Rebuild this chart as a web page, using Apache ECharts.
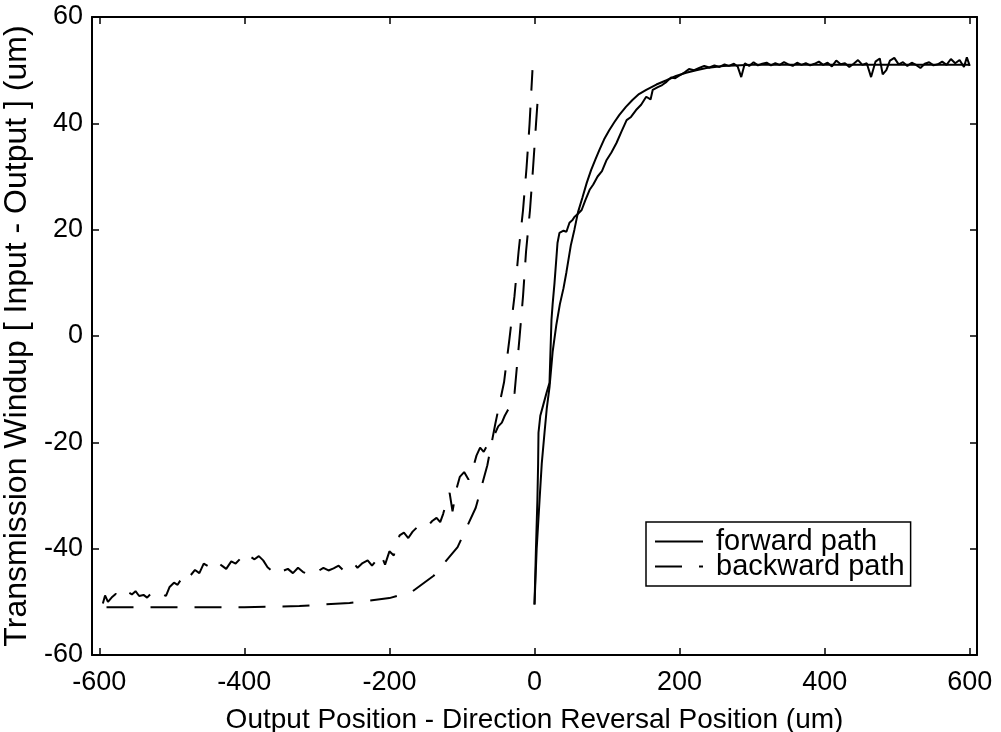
<!DOCTYPE html>
<html>
<head>
<meta charset="utf-8">
<script src="https://cdn.jsdelivr.net/npm/echarts@6/dist/echarts.min.js"></script>
<style>
html,body{margin:0;padding:0;background:#fff;}
#chart{width:1001px;height:732px;}
</style>
</head>
<body>
<div id="chart"></div>
<script>
// ---- Data ----
const xTicks = [-600, -400, -200, 0, 200, 400, 600];
const yTicks = [-60, -40, -20, 0, 20, 40, 60];

// forward path, measured (noisy, solid)
const fwdMeasX = [0,2,4,5,5.5,8,12,17,20.7,22,23.4,25,27.6,30.3,31.7,34.4,40,44,48.2,52.4,55,60,65,70,76,81,87,93,99,106,113,120,127,133,140,147,154,160,163,170,176,182,188,194,200,207,213,220,227,234,241,248,255,262,268,275,280,285,290,296,302,308,314,320,326,332,338,344,350,356,362,368,374,380,386,392,398,404,410,416,422,428,434,440,446,452,458,464,470,476,480,485,490,496,502,508,514,520,526,532,538,544,550,556,562,568,574,580,586,592,596,600];
const fwdMeasY = [-50.5,-40,-30.8,-24,-18.2,-15,-13,-10.5,-8.8,-3,3,6,10,14.9,17.5,19.4,19.8,19.6,21.3,21.8,22.4,23,23.7,25.5,27.5,28.5,30,31,33,34.5,36.3,38.5,40.6,41.2,42.5,43.5,45,44.5,46.3,46.8,47.2,47.8,48.6,48.5,49,49.6,50.2,50,50.4,50.8,50.5,50.9,50.6,51.1,50.8,51.2,50.7,48.7,51.3,50.8,51.5,50.9,51.2,51.4,50.9,51.3,51,51.5,51.1,50.8,51.4,51,51.3,50.9,51.2,51.6,51,51.4,50.7,51.8,51.1,51.3,50.6,51.2,51.9,51,51.3,48.7,51.6,52.2,49.2,50,51.8,52.3,51.1,51.5,50.8,51.4,51,50.4,51.2,51.5,50.9,51.1,51.6,51,52.1,51.3,51.9,50.6,52.4,50.8];

// forward path, smooth (solid)
const fwdSmoothX = [0,3,7,10,13.8,17,20.7,25,30,35,40,44,50,55,60,66,72,78,84,89.5,96,103,110,117,126,135,144,154,168,182,195,209,223,237,260,300,400,500,600];
const fwdSmoothY = [-50.5,-40,-30.8,-24,-18.2,-13.5,-9.6,-3,2,6,9,12,17,20,23.3,26,28.8,31.2,33.2,35,37,38.7,40.2,41.6,43.1,44.4,45.5,46.3,47.3,48.1,48.9,49.5,50,50.4,50.8,51,51,51,51];

// backward path, measured (noisy, dashed)
const bwdMeasX = [-595,-592,-588,-583,-577,-572,-567,-560,-555,-550,-545,-539,-534,-527,-521,-516,-508,-503,-497,-492,-486,-480,-474,-468,-462,-456,-450,-443,-437,-431,-425,-418,-412,-405,-398,-392,-386,-380,-374,-368,-361,-354,-347,-340,-333,-326,-319,-312,-305,-298,-291,-284,-277,-270,-264,-257,-250,-244,-237,-230,-224,-218,-212,-206,-200,-194,-186,-180,-174,-168,-162,-155,-148,-141,-135,-130,-126,-121,-117,-113,-108,-103,-97,-91,-85,-80,-75,-70,-65,-60,-55,-50,-45,-41,-37,-34,-31,-29,-27.5,-20.7,-15.8,-11.7,-6.2,-2,2,5.5];
const bwdMeasY = [-50.3,-48.8,-50,-49.2,-48.5,-49.3,-48.7,-48.2,-48.6,-48,-48.9,-48.7,-49.2,-48.2,-48.7,-48.3,-48.9,-47.2,-46.4,-46.8,-45.5,-46.2,-45,-44,-44.6,-42.8,-43.3,-43.6,-42.5,-43.2,-43.8,-42.4,-42.8,-41.8,-42.6,-41.5,-42,-41.4,-42.2,-43.5,-44.3,-45,-44.2,-43.8,-44.6,-43.6,-44.4,-44.8,-43.9,-44.2,-43.6,-44.1,-43.7,-43.2,-44,-43.4,-42.6,-43.6,-42.7,-42.2,-43.2,-42.2,-41,-43,-40.5,-41.3,-37.5,-37,-38,-36.8,-36,-35.4,-35.9,-34.8,-34.2,-35,-33.5,-31,-29.5,-33,-29,-26.5,-25.6,-27,-25,-22.5,-21,-21.8,-20.5,-19.5,-18.5,-17,-16.3,-15,-14,-13.4,-12.5,-11.5,-10.7,-0.4,7.5,15.8,23.7,31.6,39.7,46.6];

// backward path, smooth (dashed)
const bwdSmoothX = [-590,-500,-400,-324,-255,-200,-169,-139,-106,-81,-65,-54,-42,-34.4,-27.6,-22,-15.8,-11,-6.9,-2.8];
const bwdSmoothY = [-51,-51,-51,-50.8,-50.2,-49.3,-48.1,-45.1,-39.7,-32.3,-24.3,-16.5,-8.7,-0.4,7.5,15.8,23.7,31.6,39.7,50];

const seriesNames = ['forward path', 'backward path'];
const xAxisTitle = 'Output Position - Direction Reversal Position (um)';
const yAxisTitle = 'Transmission Windup [ Input - Output ] (um)';

function pairs(xs, ys) { return xs.map((x, i) => [x, ys[i]]); }

const FONT = "'Liberation Sans', Arial, Helvetica, sans-serif";
const chart = echarts.init(document.getElementById('chart'), null, { renderer: 'canvas' });

const axisCommon = {
  type: 'value',
  axisLine: { show: true, onZero: false, lineStyle: { color: '#000', width: 2 } },
  splitLine: { show: false },
  axisTick: { show: true, inside: true, length: 7, lineStyle: { color: '#000', width: 1.5 } }
};

const dashed = [27, 17];

chart.setOption({
  animation: false,
  backgroundColor: '#fff',
  grid: { left: 92, right: 24, top: 17, bottom: 77, containLabel: false, outerBoundsMode: 'none' },
  legend: {
    data: seriesNames,
    orient: 'vertical',
    left: 646, top: 522,
    backgroundColor: '#fff',
    borderColor: '#000', borderWidth: 1.5,
    padding: [5, 6, 5, 8],
    itemGap: -4,
    itemWidth: 48, itemHeight: 14,
    itemStyle: { opacity: 0 },
    textStyle: { fontFamily: FONT, fontSize: 29, color: '#000', lineHeight: 23, padding: [0, 0, 0, 8] }
  },
  xAxis: [
    Object.assign({}, axisCommon, {
      position: 'bottom', min: -610, max: 610,
      name: xAxisTitle, nameLocation: 'middle', nameGap: 51,
      nameTextStyle: { fontFamily: FONT, fontSize: 28, color: '#000' },
      axisTick: Object.assign({}, axisCommon.axisTick, { customValues: xTicks }),
      axisLabel: { show: true, customValues: xTicks, margin: 14, fontFamily: FONT, fontSize: 27, color: '#000' }
    }),
    Object.assign({}, axisCommon, {
      position: 'top', min: -610, max: 610,
      axisTick: Object.assign({}, axisCommon.axisTick, { customValues: xTicks }),
      axisLabel: { show: false, customValues: xTicks }
    })
  ],
  yAxis: [
    Object.assign({}, axisCommon, {
      position: 'left', min: -60, max: 60, interval: 20,
      name: yAxisTitle, nameLocation: 'middle', nameGap: 53,
      nameTextStyle: { fontFamily: FONT, fontSize: 32, color: '#000' },
      axisLabel: { show: true, margin: 9, fontFamily: FONT, fontSize: 27, color: '#000' }
    }),
    Object.assign({}, axisCommon, {
      position: 'right', min: -60, max: 60, interval: 20,
      axisLabel: { show: false }
    })
  ],
  series: [
    { name: seriesNames[1], type: 'line', data: pairs(bwdSmoothX, bwdSmoothY), symbol: 'none', smooth: false,
      lineStyle: { color: '#000', width: 2, type: dashed }, itemStyle: { color: '#000' } },
    { name: seriesNames[1], type: 'line', data: pairs(bwdMeasX, bwdMeasY), symbol: 'none',
      lineStyle: { color: '#000', width: 2, type: dashed }, itemStyle: { color: '#000' } },
    { name: seriesNames[0], type: 'line', data: pairs(fwdSmoothX, fwdSmoothY), symbol: 'none', smooth: false,
      lineStyle: { color: '#000', width: 2, type: 'solid' }, itemStyle: { color: '#000' } },
    { name: seriesNames[0], type: 'line', data: pairs(fwdMeasX, fwdMeasY), symbol: 'none',
      lineStyle: { color: '#000', width: 2, type: 'solid' }, itemStyle: { color: '#000' } }
  ]
});
</script>
</body>
</html>
